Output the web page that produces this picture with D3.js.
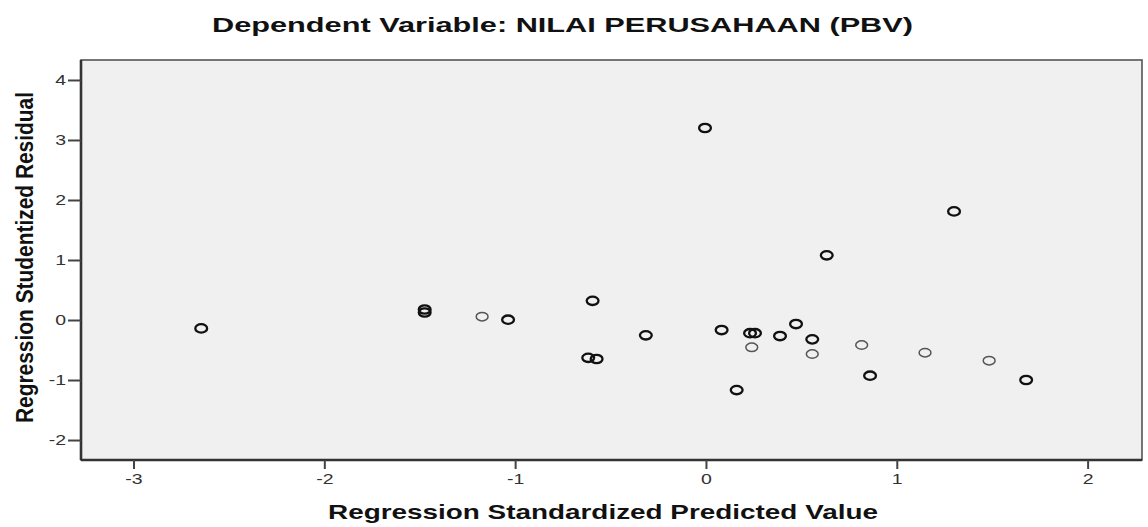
<!DOCTYPE html>
<html>
<head>
<meta charset="utf-8">
<script src="https://cdn.jsdelivr.net/npm/d3@7/dist/d3.min.js"></script>
<style>
html,body{margin:0;padding:0;background:#fff;}
svg{display:block;}
</style>
</head>
<body>
<svg id="chart" width="1148" height="527"></svg>
<script>
// ---- data ----
const titleText = "Dependent Variable: NILAI PERUSAHAAN (PBV)";
const xTitle = "Regression Standardized Predicted Value";
const yTitle = "Regression Studentized Residual";
const xTicks = [-3, -2, -1, 0, 1, 2];
const yTicks = [-2, -1, 0, 1, 2, 3, 4];
const predicted = [-2.645, -1.474, -1.474, -1.173, -1.037, -0.594, -0.617, -0.573, -0.315, -0.005,
                   0.082, 0.231, 0.257, 0.240, 0.388, 0.472, 0.161, 0.557, 0.557, 0.816,
                   0.860, 1.148, 1.484, 1.678, 0.633, 1.300];
const residual  = [-0.14, 0.175, 0.125, 0.055, 0.005, 0.32, -0.63, -0.65, -0.255, 3.20,
                   -0.167, -0.22, -0.22, -0.455, -0.267, -0.067, -1.167, -0.322, -0.567, -0.417,
                   -0.928, -0.545, -0.678, -1.00, 1.078, 1.81];
const overlap   = [2, 2, 2, 1, 2, 2, 2, 2, 2, 2,
                   2, 2, 2, 1, 2, 2, 2, 2, 1, 1,
                   2, 1, 1, 2, 2, 2];

const svg = d3.select("#chart");
const L = 81, R = 1142, T = 60, B = 460;

const x = d3.scaleLinear().domain([-3.275, 2.285]).range([L, R]);
const y = d3.scaleLinear().domain([-2.333, 4.333]).range([B, T]);

// plot background
svg.append("rect").attr("x", L).attr("y", T).attr("width", R - L).attr("height", B - T)
  .attr("fill", "#f0f0f0").attr("stroke", "#555").attr("stroke-width", 1.6);

// axes
const fmt = d => String(d);
const sx = 1.3;
const yAxis = svg.append("g").attr("transform", `translate(${L},0)`)
  .call(d3.axisLeft(y).tickValues(yTicks).tickFormat(fmt).tickSize(13).tickPadding(2));
const xAxis = svg.append("g").attr("transform", `translate(0,${B})`)
  .call(d3.axisBottom(x).tickValues(xTicks).tickFormat(fmt).tickSize(9).tickPadding(4));
[yAxis, xAxis].forEach(g => {
  g.select(".domain").attr("stroke", "#333").attr("stroke-width", 2.6);
  g.selectAll(".tick line").attr("stroke", "#444").attr("stroke-width", 2);
  g.selectAll(".tick text").attr("fill", "#333")
    .style("font-family", "'Liberation Sans', Arial, sans-serif").style("font-size", "15px");
});
yAxis.selectAll(".tick text").attr("x", -15 / sx).attr("transform", `scale(${sx},1)`);
xAxis.selectAll(".tick text").attr("transform", `scale(${sx},1)`);
xAxis.select(".domain").attr("d", `M${L},0H${R}`);
yAxis.select(".domain").attr("d", `M0,${B}V${T}`);

// points
const pts = predicted.map((v, i) => ({x: v, y: residual[i], n: overlap[i]}));
svg.append("g").selectAll("ellipse").data(pts).join("ellipse")
  .attr("cx", d => x(d.x)).attr("cy", d => y(d.y))
  .attr("rx", 5.9).attr("ry", 4.2)
  .attr("fill", "none")
  .attr("stroke", d => d.n > 1 ? "#111" : "#555")
  .attr("stroke-width", d => d.n > 1 ? 2.3 : 1.5);

// titles
svg.append("text").attr("x", 562.5).attr("y", 32).attr("text-anchor", "middle")
  .style("font-family", "'Liberation Sans', Arial, sans-serif").style("font-weight", "bold")
  .style("font-size", "21px").attr("fill", "#111")
  .attr("textLength", 701).attr("lengthAdjust", "spacingAndGlyphs")
  .text(titleText);

svg.append("text").attr("x", 603).attr("y", 519).attr("text-anchor", "middle")
  .style("font-family", "'Liberation Sans', Arial, sans-serif").style("font-weight", "bold")
  .style("font-size", "21px").attr("fill", "#111")
  .attr("textLength", 550).attr("lengthAdjust", "spacingAndGlyphs")
  .text(xTitle);

svg.append("text").attr("transform", "translate(33,257.5) rotate(-90)").attr("text-anchor", "middle")
  .style("font-family", "'Liberation Sans Narrow', 'Liberation Sans', Arial, sans-serif").style("font-weight", "bold")
  .style("font-size", "23px").attr("fill", "#111")
  .attr("textLength", 331).attr("lengthAdjust", "spacingAndGlyphs")
  .text(yTitle);
</script>
</body>
</html>
